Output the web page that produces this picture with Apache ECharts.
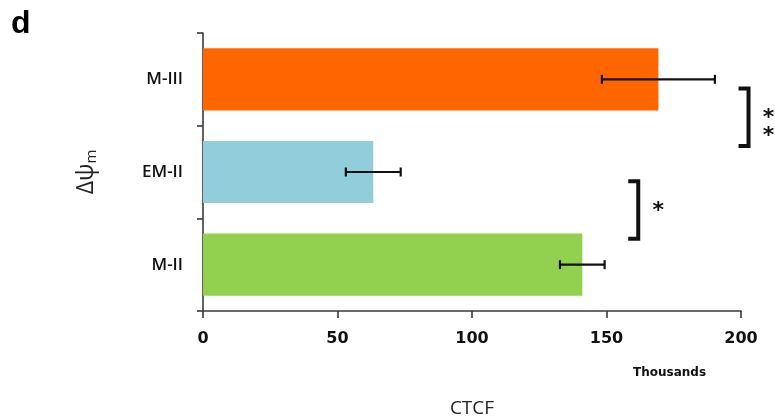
<!DOCTYPE html>
<html>
<head>
<meta charset="utf-8">
<script src="https://cdn.jsdelivr.net/npm/echarts@6/dist/echarts.min.js"></script>
<style>
  html, body { margin: 0; padding: 0; background: #fff; }
  #chart { width: 775px; height: 418px; }
</style>
</head>
<body>
<div id="chart"></div>
<script>
// Groups, bottom to top on the category axis
const groups = ['M-II', 'EM-II', 'M-III'];
// Mean CTCF (thousands) and error (thousands) per group
const ctcfMean = [141, 63.3, 169.3];
const ctcfErr = [8.3, 10.2, 21];
const barColors = ['#92D050', '#92CDDC', '#FF6600'];
// Value axis ticks (thousands)
const xTicks = [0, 50, 100, 150, 200];
// Pairwise comparisons: [group index A, group index B, significance mark]
const comparisons = [
  [2, 1, '*\n*'],
  [1, 0, '*']
];

const chart = echarts.init(document.getElementById('chart'), null, { renderer: 'canvas' });

const barData = ctcfMean.map((v, i) => ({ value: v, itemStyle: { color: barColors[i] } }));
const errData = ctcfMean.map((v, i) => [i, v - ctcfErr[i], v + ctcfErr[i]]);
const cmpData = comparisons.map(c => {
  const top = Math.max(ctcfMean[c[0]] + ctcfErr[c[0]], ctcfMean[c[1]] + ctcfErr[c[1]]);
  return [c[0], c[1], top, c[2]];
});

const axisColor = '#3a3a3a';

function renderErrorBar(params, api) {
  const cat = api.value(0);
  const lo = api.coord([api.value(1), cat]);
  const hi = api.coord([api.value(2), cat]);
  const cap = 4.5;
  const style = { stroke: '#111', lineWidth: 2.2 };
  return {
    type: 'group',
    children: [
      { type: 'line', shape: { x1: lo[0], y1: lo[1], x2: hi[0], y2: hi[1] }, style },
      { type: 'line', shape: { x1: lo[0], y1: lo[1] - cap, x2: lo[0], y2: lo[1] + cap }, style },
      { type: 'line', shape: { x1: hi[0], y1: hi[1] - cap, x2: hi[0], y2: hi[1] + cap }, style }
    ]
  };
}

function renderBracket(params, api) {
  const a = api.value(0), b = api.value(1);
  const pA = api.coord([0, a]);
  const pB = api.coord([0, b]);
  const x = api.coord([api.value(2) + 12.5, a])[0];
  const band = Math.abs(pB[1] - pA[1]);
  const mid = (pA[1] + pB[1]) / 2 - band * 0.09;
  const half = band * 0.31;
  const arm = 10;
  const label = comparisons[params.dataIndex][2];
  return {
    type: 'group',
    children: [
      {
        type: 'polyline',
        shape: { points: [[x - arm, mid - half], [x, mid - half], [x, mid + half], [x - arm, mid + half]] },
        style: { stroke: '#111', lineWidth: 4, fill: null, lineJoin: 'miter' }
      },
      {
        type: 'text',
        x: x + 20,
        y: mid + (label.length > 1 ? 10 : 1),
        style: {
          text: label,
          fill: '#111',
          font: 'bold 22px "DejaVu Sans"',
          align: 'center',
          verticalAlign: 'middle',
          lineHeight: 18
        }
      }
    ]
  };
}

chart.setOption({
  animation: false,
  backgroundColor: '#fff',
  grid: { left: 203, right: 34, top: 33, bottom: 107, containLabel: false, outerBoundsMode: 'none' },
  xAxis: {
    type: 'value',
    min: xTicks[0],
    max: xTicks[xTicks.length - 1],
    interval: xTicks[1] - xTicks[0],
    name: 'CTCF',
    nameLocation: 'middle',
    nameGap: 88,
    nameTextStyle: { fontFamily: 'Open Sans', fontSize: 19, color: '#222' },
    axisLine: { show: true, lineStyle: { color: axisColor, width: 1.6 } },
    axisTick: { show: true, length: 7, lineStyle: { color: axisColor, width: 1.6 } },
    axisLabel: {
      margin: 20,
      fontFamily: 'DejaVu Sans',
      fontWeight: 'bold',
      fontSize: 16,
      color: '#111'
    },
    splitLine: { show: false }
  },
  yAxis: {
    type: 'category',
    data: groups,
    name: 'Δψ{sub|m}',
    nameLocation: 'middle',
    nameRotate: 90,
    nameGap: 104,
    nameTextStyle: {
      fontFamily: 'Open Sans',
      fontSize: 23,
      color: '#222',
      rich: { sub: { fontFamily: 'Open Sans', fontSize: 15, color: '#222', padding: [10, 0, 0, 0] } }
    },
    axisLine: { show: true, lineStyle: { color: axisColor, width: 1.6 } },
    axisTick: { show: true, length: 6, lineStyle: { color: axisColor, width: 1.6 } },
    axisLabel: {
      margin: 20,
      fontFamily: 'Open Sans',
      fontSize: 17,
      fontWeight: 600,
      color: '#111'
    }
  },
  series: [
    {
      type: 'bar',
      data: barData,
      barCategoryGap: '33%',
      silent: true
    },
    {
      type: 'custom',
      data: errData,
      renderItem: renderErrorBar,
      encode: { y: 0, x: [1, 2] },
      z: 3,
      silent: true
    },
    {
      type: 'custom',
      data: cmpData,
      renderItem: renderBracket,
      encode: { y: [0, 1], x: 2 },
      clip: false,
      z: 3,
      silent: true
    }
  ],
  graphic: [
    {
      type: 'text',
      left: 11,
      top: 8,
      style: { text: 'd', font: 'bold 32px "Liberation Sans"', fill: '#000' }
    },
    {
      type: 'text',
      left: 633,
      top: 367,
      style: { text: 'Thousands', font: 'bold 12px "DejaVu Sans"', fill: '#111' }
    }
  ]
});
</script>
</body>
</html>
